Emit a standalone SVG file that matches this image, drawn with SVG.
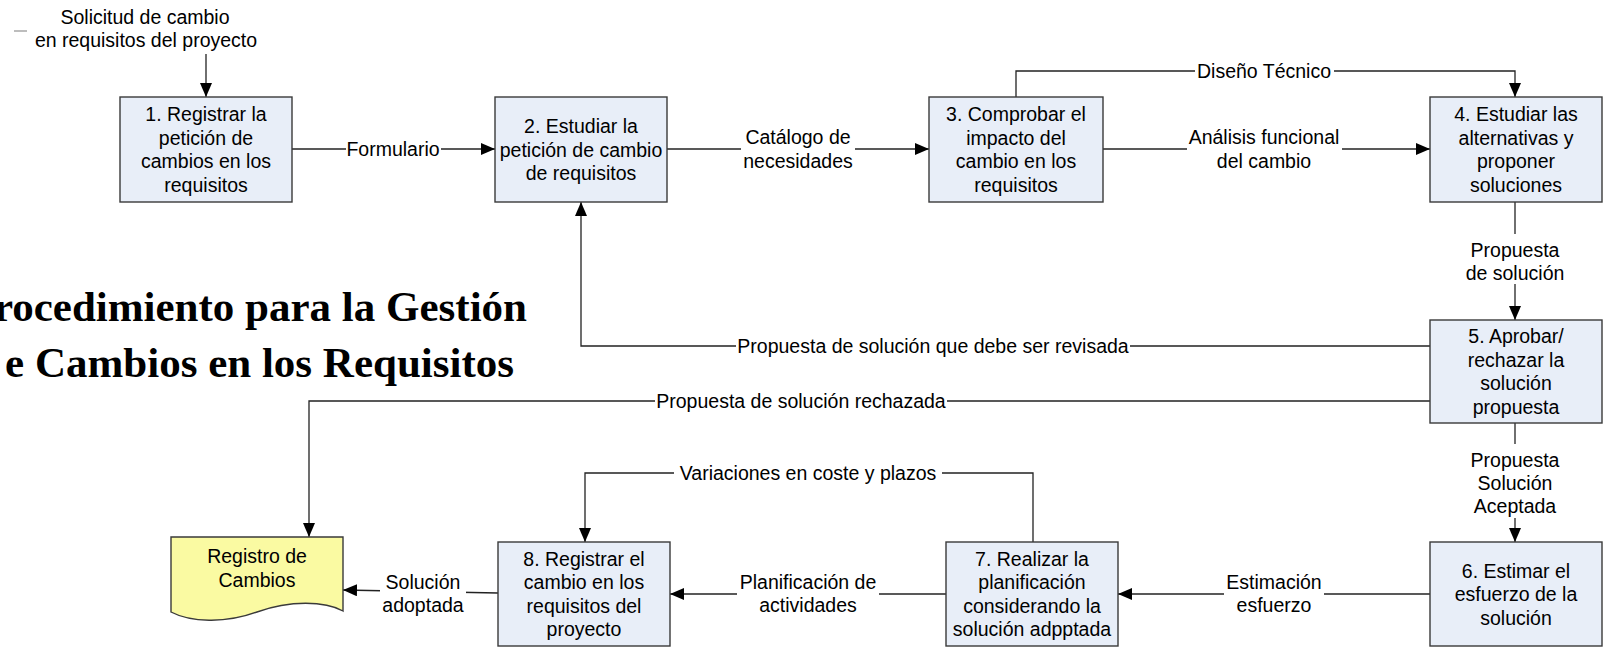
<svg xmlns="http://www.w3.org/2000/svg" width="1604" height="647" viewBox="0 0 1604 647">
<defs>
<style>
.box{fill:#e8eef8;stroke:#3a3a3a;stroke-width:1.4}
.doc{fill:#fafaa2;stroke:#3a3a3a;stroke-width:1.4}
.t{font-family:"Liberation Sans",Arial,sans-serif;font-size:19.5px;fill:#000;text-anchor:middle}
.title{font-family:"Liberation Serif","Times New Roman",serif;font-size:43px;font-weight:bold;fill:#000;text-anchor:end}
.c{fill:none;stroke:#222;stroke-width:1.3}
.bg{fill:#fff}
</style>
<marker id="ah" viewBox="0 0 14 12" refX="14" refY="6" markerWidth="14" markerHeight="12" markerUnits="userSpaceOnUse" orient="auto">
<path d="M0,0 L14,6 L0,12 z" fill="#000"/>
</marker>
</defs>
<rect width="1604" height="647" fill="#fff"/>

<g id="title">
<text class="title" x="527" y="321">rocedimiento para la Gestión</text>
<text class="title" x="514" y="377">e Cambios en los Requisitos</text>
</g>

<g id="connectors">
<line x1="14" y1="31" x2="27" y2="31" stroke="#9a9a9a" stroke-width="1.3"/>
<text class="t" x="145" y="24">Solicitud de cambio</text>
<text class="t" x="146" y="47">en requisitos del proyecto</text>
<line class="c" x1="206" y1="54" x2="206" y2="97" marker-end="url(#ah)"/>

<line class="c" x1="292" y1="149" x2="495" y2="149" marker-end="url(#ah)"/>
<rect class="bg" x="346" y="138" width="95" height="22"/>
<text class="t" x="393" y="156">Formulario</text>

<line class="c" x1="667" y1="149" x2="929" y2="149" marker-end="url(#ah)"/>
<rect class="bg" x="741" y="126" width="114" height="48"/>
<text class="t" x="798" y="144">Catálogo de</text>
<text class="t" x="798" y="167.5">necesidades</text>

<line class="c" x1="1103" y1="149" x2="1430" y2="149" marker-end="url(#ah)"/>
<rect class="bg" x="1187" y="126" width="155" height="48"/>
<text class="t" x="1264" y="144">Análisis funcional</text>
<text class="t" x="1264" y="167.5">del cambio</text>

<path class="c" d="M1016,97 V71 H1515 V97" marker-end="url(#ah)"/>
<rect class="bg" x="1195" y="60" width="139" height="22"/>
<text class="t" x="1264" y="78">Diseño Técnico</text>

<line class="c" x1="1515" y1="202" x2="1515" y2="320" marker-end="url(#ah)"/>
<rect class="bg" x="1464" y="234" width="102" height="50"/>
<text class="t" x="1515" y="256.5">Propuesta</text>
<text class="t" x="1515" y="279.5">de solución</text>

<path class="c" d="M1430,346 H581 V202" marker-end="url(#ah)"/>
<rect class="bg" x="736" y="335" width="394" height="22"/>
<text class="t" x="933" y="353">Propuesta de solución que debe ser revisada</text>

<path class="c" d="M1430,401 H309 V537" marker-end="url(#ah)"/>
<rect class="bg" x="655" y="390" width="292" height="22"/>
<text class="t" x="801" y="408">Propuesta de solución rechazada</text>

<line class="c" x1="1515" y1="423" x2="1515" y2="542" marker-end="url(#ah)"/>
<rect class="bg" x="1467" y="444" width="96" height="74"/>
<text class="t" x="1515" y="467">Propuesta</text>
<text class="t" x="1515" y="490">Solución</text>
<text class="t" x="1515" y="513">Aceptada</text>

<line class="c" x1="1430" y1="594" x2="1118" y2="594" marker-end="url(#ah)"/>
<rect class="bg" x="1224" y="570" width="100" height="48"/>
<text class="t" x="1274" y="589">Estimación</text>
<text class="t" x="1274" y="612">esfuerzo</text>

<line class="c" x1="946" y1="594" x2="670" y2="594" marker-end="url(#ah)"/>
<rect class="bg" x="737" y="570" width="142" height="48"/>
<text class="t" x="808" y="589">Planificación de</text>
<text class="t" x="808" y="612">actividades</text>

<path class="c" d="M1033,542 V473 H585 V542" marker-end="url(#ah)"/>
<rect class="bg" x="674" y="462" width="268" height="22"/>
<text class="t" x="808" y="480">Variaciones en coste y plazos</text>

<line class="c" x1="498" y1="593" x2="343" y2="590" marker-end="url(#ah)"/>
<rect class="bg" x="380" y="570" width="86" height="48"/>
<text class="t" x="423" y="589">Solución</text>
<text class="t" x="423" y="612">adoptada</text>
</g>

<g id="n1">
<rect class="box" x="120" y="97" width="172" height="105"/>
<text class="t" x="206" y="121.25">1. Registrar la</text>
<text class="t" x="206" y="144.75">petición de</text>
<text class="t" x="206" y="168.25">cambios en los</text>
<text class="t" x="206" y="191.75">requisitos</text>
</g>
<g id="n2">
<rect class="box" x="495" y="97" width="172" height="105"/>
<text class="t" x="581" y="133">2. Estudiar la</text>
<text class="t" x="581" y="156.5">petición de cambio</text>
<text class="t" x="581" y="180">de requisitos</text>
</g>
<g id="n3">
<rect class="box" x="929" y="97" width="174" height="105"/>
<text class="t" x="1016" y="121.25">3. Comprobar el</text>
<text class="t" x="1016" y="144.75">impacto del</text>
<text class="t" x="1016" y="168.25">cambio en los</text>
<text class="t" x="1016" y="191.75">requisitos</text>
</g>
<g id="n4">
<rect class="box" x="1430" y="97" width="172" height="105"/>
<text class="t" x="1516" y="121.25">4. Estudiar las</text>
<text class="t" x="1516" y="144.75">alternativas y</text>
<text class="t" x="1516" y="168.25">proponer</text>
<text class="t" x="1516" y="191.75">soluciones</text>
</g>
<g id="n5">
<rect class="box" x="1430" y="320" width="172" height="103"/>
<text class="t" x="1516" y="343.25">5. Aprobar/</text>
<text class="t" x="1516" y="366.75">rechazar la</text>
<text class="t" x="1516" y="390.25">solución</text>
<text class="t" x="1516" y="413.75">propuesta</text>
</g>
<g id="n6">
<rect class="box" x="1430" y="542" width="172" height="104"/>
<text class="t" x="1516" y="577.5">6. Estimar el</text>
<text class="t" x="1516" y="601">esfuerzo de la</text>
<text class="t" x="1516" y="624.5">solución</text>
</g>
<g id="n7">
<rect class="box" x="946" y="542" width="172" height="104"/>
<text class="t" x="1032" y="565.75">7. Realizar la</text>
<text class="t" x="1032" y="589.25">planificación</text>
<text class="t" x="1032" y="612.75">considerando la</text>
<text class="t" x="1032" y="636.25">solución adpptada</text>
</g>
<g id="n8">
<rect class="box" x="498" y="542" width="172" height="104"/>
<text class="t" x="584" y="565.75">8. Registrar el</text>
<text class="t" x="584" y="589.25">cambio en los</text>
<text class="t" x="584" y="612.75">requisitos del</text>
<text class="t" x="584" y="636.25">proyecto</text>
</g>
<g id="doc">
<path class="doc" d="M171,537 H343 V611 C325,601 290,600 257,612 C225,624 190,622 171,612 Z"/>
<text class="t" x="257" y="563">Registro de</text>
<text class="t" x="257" y="587">Cambios</text>
</g>
</svg>
